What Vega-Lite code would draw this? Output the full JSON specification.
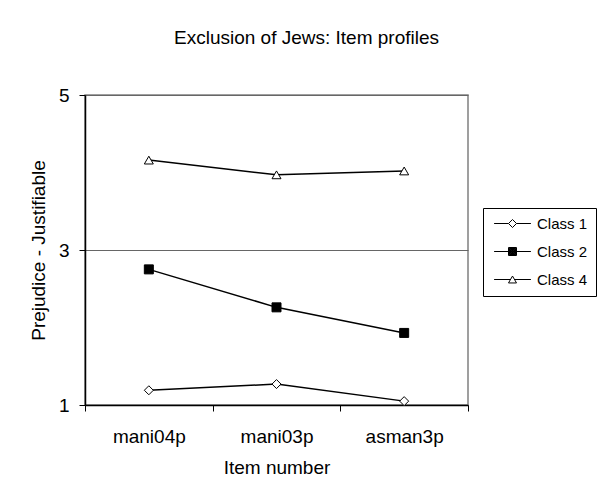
{
  "$schema": "https://vega.github.io/schema/vega-lite/v6.json",
  "width": 383,
  "height": 310,
  "autosize": "none",
  "padding": {"left": 85, "top": 95, "right": 130, "bottom": 94},
  "background": "white",
  "title": {
    "text": "Exclusion of Jews: Item profiles",
    "fontSize": 19,
    "fontWeight": "normal",
    "font": "Liberation Sans",
    "color": "black",
    "anchor": "middle",
    "frame": "group",
    "dx": 30,
    "baseline": "alphabetic",
    "offset": 23
  },
  "config": {
    "font": "Liberation Sans",
    "view": {"stroke": "#808080", "strokeWidth": 1.5},
    "axis": {
      "labelColor": "black",
      "titleColor": "black",
      "labelFont": "Liberation Sans",
      "titleFont": "Liberation Sans",
      "titleFontWeight": "normal",
      "domainColor": "black",
      "tickColor": "black",
      "domainWidth": 1.5,
      "tickWidth": 1
    }
  },
  "data": {
    "values": [
      {"Class": "Class 1", "item": "mani04p", "value": 1.19},
      {"Class": "Class 1", "item": "mani03p", "value": 1.27},
      {"Class": "Class 1", "item": "asman3p", "value": 1.05},
      {"Class": "Class 2", "item": "mani04p", "value": 2.75},
      {"Class": "Class 2", "item": "mani03p", "value": 2.26},
      {"Class": "Class 2", "item": "asman3p", "value": 1.93},
      {"Class": "Class 4", "item": "mani04p", "value": 4.16},
      {"Class": "Class 4", "item": "mani03p", "value": 3.97},
      {"Class": "Class 4", "item": "asman3p", "value": 4.02}
    ]
  },
  "encoding": {
    "x": {
      "field": "item",
      "type": "nominal",
      "sort": ["mani04p", "mani03p", "asman3p"],
      "scale": {"type": "band", "paddingInner": 0, "paddingOuter": 0},
      "axis": {
        "title": "Item number",
        "titleFontSize": 19,
        "labelFontSize": 19,
        "labelAngle": 0,
        "tickBand": "extent",
        "tickSize": 6,
        "labelPadding": 16,
        "titlePadding": 12,
        "grid": false
      }
    },
    "y": {
      "field": "value",
      "type": "quantitative",
      "scale": {"domain": [1, 5], "nice": false, "zero": false},
      "axis": {
        "title": "Prejudice - Justifiable",
        "titleFontSize": 19,
        "labelFontSize": 19,
        "values": [1, 3, 5],
        "tickSize": 6,
        "labelPadding": 10,
        "titlePadding": 10,
        "grid": true,
        "gridColor": "#666666",
        "gridWidth": 1.2
      }
    }
  },
  "layer": [
    {
      "mark": {"type": "line", "color": "black", "strokeWidth": 1.5},
      "encoding": {"detail": {"field": "Class"}}
    },
    {
      "mark": {"type": "point", "filled": true, "stroke": "black", "strokeWidth": 1, "size": 81, "opacity": 1},
      "encoding": {
        "shape": {
          "field": "Class",
          "scale": {"domain": ["Class 1", "Class 2", "Class 4"], "range": ["diamond", "square", "triangle-up"]},
          "legend": null
        },
        "fill": {
          "field": "Class",
          "scale": {"domain": ["Class 1", "Class 2", "Class 4"], "range": ["white", "black", "white"]},
          "legend": null
        }
      }
    },
    {
      "transform": [{"filter": "datum.Class == 'none'"}],
      "mark": {"type": "point", "filled": false, "color": "black", "strokeWidth": 1, "size": 64, "opacity": 1},
      "encoding": {
        "shape": {
          "field": "Class",
          "scale": {
            "domain": ["Class 1", "Class 2", "Class 4"],
            "range": [
              "M-4.6,0L-1,0M-1,0L0,-1L1,0L0,1ZM1,0L4.6,0",
              "M-4.6,0L-1,0M-1,-1L1,-1L1,1L-1,1ZM-0.875,-0.875L0.875,-0.875L0.875,0.875L-0.875,0.875ZM-0.75,-0.75L0.75,-0.75L0.75,0.75L-0.75,0.75ZM-0.625,-0.625L0.625,-0.625L0.625,0.625L-0.625,0.625ZM-0.5,-0.5L0.5,-0.5L0.5,0.5L-0.5,0.5ZM-0.375,-0.375L0.375,-0.375L0.375,0.375L-0.375,0.375ZM-0.25,-0.25L0.25,-0.25L0.25,0.25L-0.25,0.25ZM-0.125,-0.125L0.125,-0.125L0.125,0.125L-0.125,0.125ZM-0.05,0L0.05,0M0,-0.05L0,0.05M1,0L4.6,0",
              "M-4.6,0L-0.5,0M0,-0.866L-1,0.866L1,0.866ZM0.5,0L4.6,0"
            ]
          },
          "legend": {
            "title": null,
            "orient": "none",
            "legendX": 398,
            "legendY": 113,
            "strokeColor": "black",
            "fillColor": "white",
            "padding": 8,
            "symbolSize": 64,
            "symbolStrokeColor": "black",
            "symbolStrokeWidth": 1,
            "symbolOpacity": 1,
            "symbolOffset": 14,
            "labelOffset": 17,
            "labelFontSize": 15,
            "labelFont": "Liberation Sans",
            "labelColor": "black",
            "rowPadding": 12
          }
        }
      }
    }
  ],
  "resolve": {"scale": {"shape": "independent", "fill": "independent"}}
}
